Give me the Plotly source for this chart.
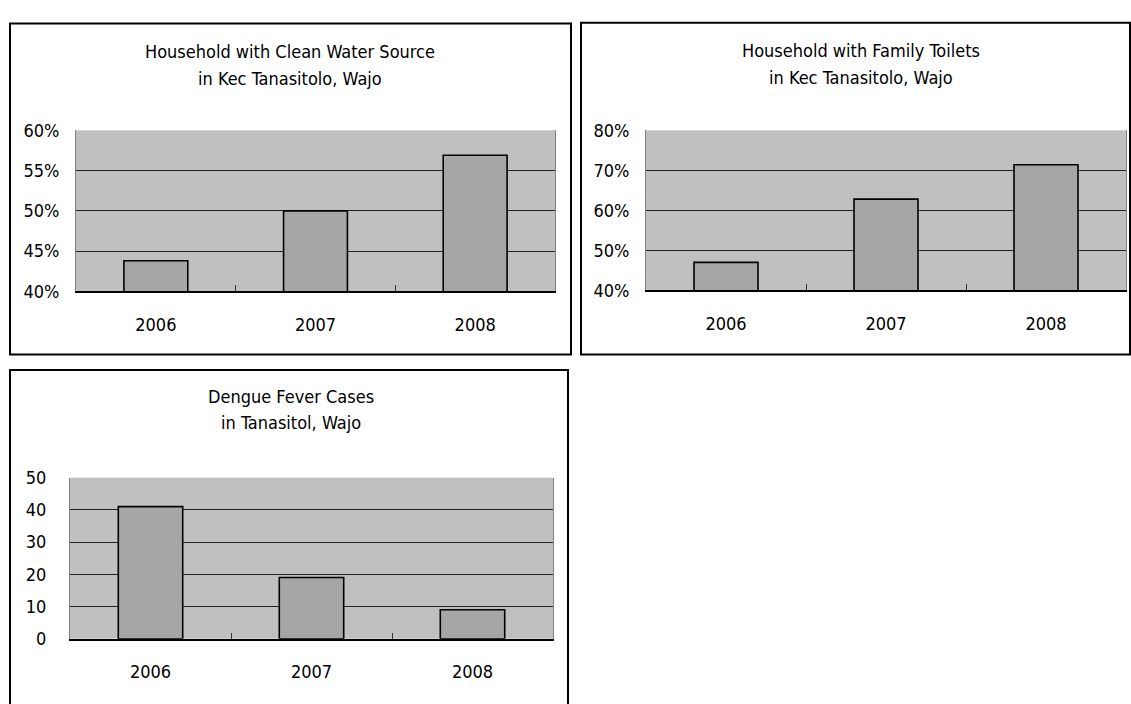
import plotly.graph_objects as go

# Data
years = ["2006", "2007", "2008"]
clean_water_pct = [43.8, 50.0, 56.9]
family_toilets_pct = [47.0, 62.8, 71.4]
dengue_cases = [41, 19, 9]

W, H = 1131, 704
FONT = "Liberation Sans Narrow, DejaVu Sans Condensed, Arial Narrow, sans-serif"
PLOT_BG = "#C0C0C0"
BAR_FILL = "#A6A6A6"


def px_x(v):
    return v / W


def px_y(v):
    return 1 - v / H


fig = go.Figure()

panels = [
    # (values, plot box in px [x0, x1, y0, y1], y range, dtick, suffix, label standoff)
    (clean_water_pct, (76, 555, 123, 289), (40, 60), 5, "%", 12),
    (family_toilets_pct, (646, 1126, 123, 288), (40, 80), 10, "%", 12),
    (dengue_cases, (70, 553, 481, 647), (0, 50), 10, "", 19),
]

for i, (vals, box, yr, dt, suffix, ystand) in enumerate(panels, start=1):
    xa = "x" if i == 1 else f"x{i}"
    ya = "y" if i == 1 else f"y{i}"
    fig.add_trace(go.Bar(
        x=years, y=vals, xaxis=xa, yaxis=ya,
        marker=dict(color=BAR_FILL, line=dict(color="black", width=1.6)),
        showlegend=False, hoverinfo="x+y",
    ))
    x0, x1, y0, y1 = box
    xkey = "xaxis" if i == 1 else f"xaxis{i}"
    ykey = "yaxis" if i == 1 else f"yaxis{i}"
    fig.layout[xkey] = dict(
        domain=[px_x(x0), px_x(x1)], anchor=ya,
        showgrid=False, showline=True, linecolor="black", linewidth=2,
        ticks="inside", tickson="boundaries", ticklen=6, tickcolor="#333",
        tickwidth=1, ticklabelstandoff=16,
        tickfont=dict(family=FONT, size=18, color="black"),
        fixedrange=True,
    )
    fig.layout[ykey] = dict(
        domain=[px_y(y1), px_y(y0)], anchor=xa,
        range=list(yr), dtick=dt, tick0=yr[0], ticksuffix=suffix,
        showgrid=True, gridcolor="#222", gridwidth=1,
        zeroline=False, showline=True, linecolor="#808080", linewidth=1,
        mirror=True, ticks="", ticklabelstandoff=ystand,
        tickfont=dict(family=FONT, size=18, color="black"),
        fixedrange=True,
    )

fig.update_layout(bargap=0.6)

# Chart frames (the lower one runs past the bottom edge of the page)
frames = [(10, 571, 13, 354), (581, 1130, 12, 354), (10, 568, 370, 740)]
for fx0, fx1, fy0, fy1 in frames:
    fig.add_shape(type="rect", xref="paper", yref="paper",
                  x0=px_x(fx0), x1=px_x(fx1), y0=px_y(fy1), y1=px_y(fy0),
                  line=dict(color="black", width=2), fillcolor="rgba(0,0,0,0)",
                  layer="below")

# Two-line chart titles
titles = [
    (290, 42, 70, "Household with Clean Water Source", "in Kec Tanasitolo, Wajo"),
    (861, 41, 69, "Household with Family Toilets", "in Kec Tanasitolo, Wajo"),
    (291, 397, 424, "Dengue Fever Cases", "in Tanasitol, Wajo"),
]
for cx, ya, yb, l1, l2 in titles:
    for yy, txt in ((ya, l1), (yb, l2)):
        fig.add_annotation(x=px_x(cx), y=px_y(yy), xref="paper", yref="paper",
                           text=txt, showarrow=False, xanchor="center",
                           yanchor="middle",
                           font=dict(family=FONT, size=18, color="black"))

fig.update_layout(
    width=W, height=H,
    margin=dict(l=0, r=0, t=0, b=0),
    paper_bgcolor="white", plot_bgcolor=PLOT_BG,
    font=dict(family=FONT, size=18, color="black"),
)

fig.write_html("out.html", config={"displayModeBar": False})
